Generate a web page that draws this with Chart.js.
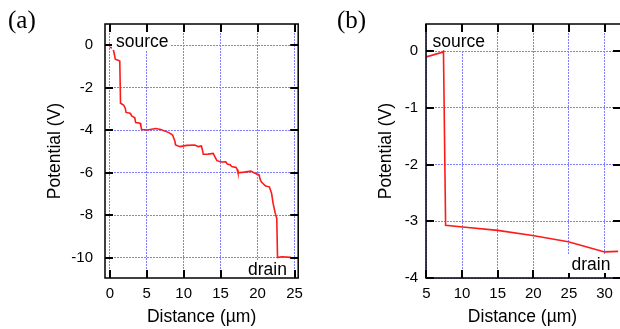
<!DOCTYPE html>
<html>
<head>
<meta charset="utf-8">
<script src="https://cdn.jsdelivr.net/npm/chart.js@4/dist/chart.umd.min.js"></script>
<style>
  html, body { margin: 0; padding: 0; background: #fff; overflow: hidden; width: 620px; height: 329px; }
  .panel { position: absolute; top: 0; height: 329px; }
  #wrapA { left: 0; width: 310px; }
  #wrapB { left: 310px; width: 320px; }
</style>
</head>
<body>
<div id="wrapA" class="panel"><canvas id="chartA"></canvas></div>
<div id="wrapB" class="panel"><canvas id="chartB"></canvas></div>
<script>
// panel (a): potential along the channel, 0..25 um
const distA = [0, 0.44, 0.6, 0.75, 1.2, 1.35, 1.45, 1.86, 2.0, 2.1, 2.2, 2.75, 2.85, 2.95, 3.3, 3.4, 3.5, 4.1, 4.2, 4.3,
  5.1, 6.2, 6.9, 8.0, 8.5, 8.8, 8.9, 9.5, 10.4, 11.5, 12.0, 12.4, 12.55, 12.65, 13.3, 14.0, 14.3, 14.5, 15.1, 15.7, 15.9,
  16.3, 16.5, 17.1, 17.25, 17.35, 18.2, 19.1, 19.5, 20.2, 20.35, 20.5, 20.8, 20.95, 21.1, 21.6, 21.9, 22.1, 22.4, 22.6,
  22.7, 22.8, 23.3, 24.5];
const potA = [-0.09, -0.14, -0.4, -0.66, -0.72, -0.74, -2.73, -2.81, -2.9, -2.97, -3.16, -3.2, -3.25, -3.33, -3.39, -3.45, -3.64, -3.67, -3.8, -3.96,
  -3.99, -3.92, -3.96, -4.11, -4.22, -4.5, -4.69, -4.77, -4.71, -4.69, -4.77, -4.74, -4.95, -5.13, -5.12, -5.09, -5.3, -5.43, -5.49, -5.48, -5.59,
  -5.62, -5.71, -5.75, -5.85, -6.0, -5.97, -5.92, -6.0, -6.1, -6.3, -6.42, -6.53, -6.58, -6.62, -6.66, -6.97, -7.44, -7.91, -8.15,
  -9.98, -9.98, -9.95, -9.98];

// panel (b): 5..32 um
const distB = [5, 7.25, 7.4, 7.7, 10.1, 15, 19.9, 24.9, 27.4, 30, 31.9];
const potB = [-0.1, -0.02, 0, -3.07, -3.1, -3.16, -3.25, -3.36, -3.45, -3.54, -3.53];

const xTicksA = [0, 5, 10, 15, 20, 25];
const yTicksA = [0, -2, -4, -6, -8, -10];
const xTicksB = [5, 10, 15, 20, 25, 30];
const yTicksB = [0, -1, -2, -3, -4];

const SANS = "'Liberation Sans', Arial, Helvetica, sans-serif";
const SERIF = "'Liberation Serif', 'Times New Roman', serif";

function toPoints(xs, ys) {
  return xs.map((x, i) => ({ x: x, y: ys[i] }));
}

// inward ticks on all four sides, boxed annotations, frame, titles
const framePlugin = {
  id: 'frame',
  afterDatasetsDraw(chart, args, opts) {
    const ctx = chart.ctx;
    const a = chart.chartArea;
    const xs = chart.scales.x, ys = chart.scales.y;
    ctx.save();

    ctx.strokeStyle = '#000';
    ctx.lineWidth = 2;
    ctx.beginPath();
    opts.xTicks.forEach(v => {
      const px = Math.round(xs.getPixelForValue(v));
      ctx.moveTo(px, a.top); ctx.lineTo(px, a.top + 8);
      ctx.moveTo(px, a.bottom); ctx.lineTo(px, a.bottom - 8);
    });
    opts.yTicks.forEach(v => {
      const py = Math.round(ys.getPixelForValue(v));
      ctx.moveTo(a.left, py); ctx.lineTo(a.left + 8, py);
      ctx.moveTo(a.right, py); ctx.lineTo(a.right - 8, py);
    });
    ctx.stroke();

    // white boxes under annotations (they hide grid and ticks)
    ctx.fillStyle = '#fff';
    opts.notes.forEach(n => ctx.fillRect(n.box[0], n.box[1], n.box[2], n.box[3]));

    ctx.lineWidth = 1.5;
    ctx.strokeStyle = '#000';
    ctx.strokeRect(a.left, a.top, a.right - a.left, a.bottom - a.top);

    ctx.fillStyle = '#000';
    ctx.font = '17.5px ' + SANS;
    ctx.textBaseline = 'alphabetic';
    ctx.textAlign = 'left';
    opts.notes.forEach(n => ctx.fillText(n.text, n.x, n.y));

    // axis titles
    ctx.textAlign = 'center';
    ctx.fillText('Distance (\u00b5m)', (a.left + a.right) / 2 + opts.xTitleDx, 322);
    ctx.save();
    ctx.translate(opts.yTitleX, (a.top + a.bottom) / 2);
    ctx.rotate(-Math.PI / 2);
    ctx.textBaseline = 'middle';
    ctx.fillText('Potential (V)', 0, 0);
    ctx.restore();

    ctx.font = '25px ' + SERIF;
    ctx.textAlign = 'left';
    ctx.fillText(opts.tag, opts.tagX, 28);
    ctx.restore();
  }
};

function makeChart(id, pts, cfg) {
  return new Chart(document.getElementById(id), {
    type: 'scatter',
    data: {
      datasets: [{
        data: pts,
        showLine: true,
        borderColor: '#ff1a1a',
        borderWidth: 1.6,
        pointRadius: 0,
        tension: 0,
        clip: false
      }]
    },
    options: {
      responsive: true,
      maintainAspectRatio: false,
      animation: false,
      layout: { padding: { top: 24, right: cfg.padRight, left: 0, bottom: 0 } },
      plugins: {
        legend: { display: false },
        tooltip: { enabled: false },
        frame: cfg.frame
      },
      scales: {
        x: {
          type: 'linear',
          min: cfg.xMin, max: cfg.xMax,
          afterBuildTicks: s => { s.ticks = cfg.xTicks.map(v => ({ value: v })); },
          afterFit: s => { s.height = 51; },
          grid: { color: '#8080ff', lineWidth: 1, drawTicks: false },
          border: { display: false, dash: [2, 1] },
          ticks: { color: '#000', font: { family: SANS, size: 15 }, padding: 7, maxRotation: 0, autoSkip: false }
        },
        y: {
          type: 'linear',
          min: cfg.yMin, max: cfg.yMax,
          afterBuildTicks: s => { s.ticks = cfg.yTicks.map(v => ({ value: v })); },
          afterFit: s => { s.width = cfg.yWidth; },
          grid: { color: '#8080ff', lineWidth: 1, drawTicks: false },
          border: { display: false, dash: [2, 1] },
          ticks: { color: '#000', font: { family: SANS, size: 15 }, padding: cfg.yPad, autoSkip: false }
        }
      }
    },
    plugins: [framePlugin]
  });
}

makeChart('chartA', toPoints(distA, potA), {
  xMin: -0.65, xMax: 25.5, yMin: -10.95, yMax: 1.0,
  xTicks: xTicksA, yTicks: yTicksA, yWidth: 105, yPad: 12, padRight: 8,
  frame: {
    xTicks: xTicksA, yTicks: yTicksA, tag: '(a)', tagX: 8, yTitleX: 55, xTitleDx: 0,
    notes: [
      { text: 'source', x: 116, y: 46.5, box: [112, 33, 58, 17] },
      { text: 'drain', x: 248, y: 275, box: [245, 260, 46, 18] }
    ]
  }
});

makeChart('chartB', toPoints(distB, potB), {
  xMin: 4.95, xMax: 32.3, yMin: -4, yMax: 0.48,
  xTicks: xTicksB, yTicks: yTicksB, yWidth: 116, yPad: 8, padRight: 9,
  frame: {
    xTicks: xTicksB, yTicks: yTicksB, tag: '(b)', tagX: 27, yTitleX: 76, xTitleDx: -1,
    notes: [
      { text: 'source', x: 122.5, y: 46.5, box: [119, 33, 58, 17] },
      { text: 'drain', x: 261.5, y: 270, box: [258, 255, 46, 18] }
    ]
  }
});
</script>
</body>
</html>
